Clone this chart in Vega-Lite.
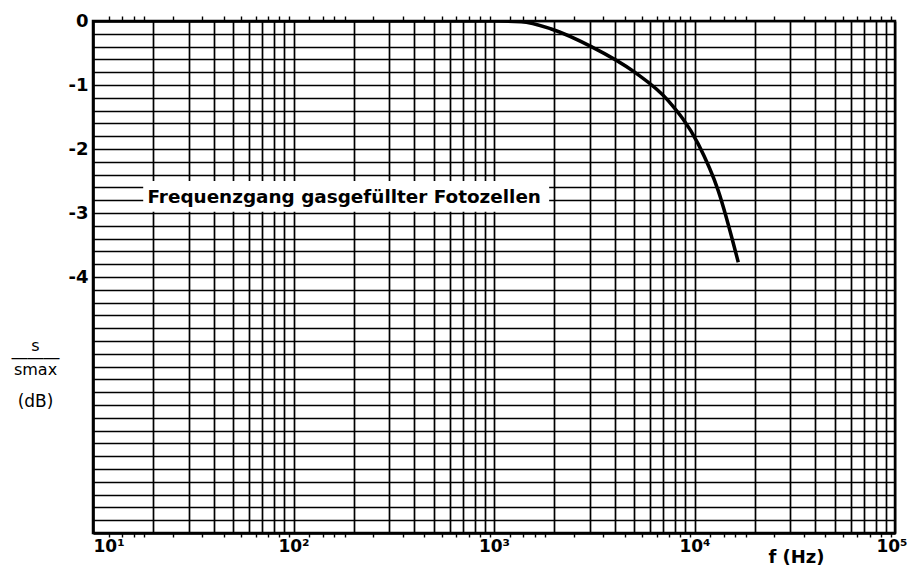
{
  "$schema": "https://vega.github.io/schema/vega-lite/v6.json",
  "width": 802,
  "height": 512,
  "autosize": "none",
  "padding": {"left": 93, "top": 21, "right": 12, "bottom": 37},
  "background": "white",
  "config": {"view": {"stroke": "black", "strokeWidth": 2.5}},
  "datasets": {
    "curve": [
      {"f": 10, "db": 0},
      {"f": 1000, "db": 0},
      {"f": 1365, "db": -0.01},
      {"f": 1930, "db": -0.125},
      {"f": 3055, "db": -0.4},
      {"f": 5030, "db": -0.8},
      {"f": 7390, "db": -1.245},
      {"f": 10430, "db": -1.92},
      {"f": 13130, "db": -2.65},
      {"f": 16530, "db": -3.77}
    ],
    "note": [
      {"f1": 17.8, "f2": 1884, "y1": -2.5, "y2": -2.98, "fc": 179, "yc": -2.745, "label": "Frequenzgang gasgefüllter Fotozellen"}
    ]
  },
  "layer": [
    {
      "data": {"name": "curve"},
      "mark": {"type": "line", "color": "black", "strokeWidth": 3.5, "interpolate": "monotone", "clip": true},
      "encoding": {
        "x": {
          "field": "f", "type": "quantitative",
          "scale": {"type": "log", "domain": [10, 100000], "nice": false},
          "axis": {
            "orient": "bottom",
            "values": [10,20,30,40,50,60,70,80,90,100,200,300,400,500,600,700,800,900,1000,2000,3000,4000,5000,6000,7000,8000,9000,10000,20000,30000,40000,50000,60000,70000,80000,90000,100000],
            "labelExpr": "datum.value==10?'10¹':datum.value==100?'10²':datum.value==1000?'10³':datum.value==10000?'10⁴':datum.value==100000?'10⁵':''",
            "labelOverlap": false,
            "labelFlush": false,
            "labelBound": false,
            "labelAlign": {"condition": [{"test": "datum.value == 10", "value": "left"}, {"test": "datum.value == 100000", "value": "right"}], "value": "center"},
            "labelOffset": {"condition": {"test": "datum.value == 100000", "value": 12}, "value": 0},
            "labelFont": "DejaVu Sans",
            "labelFontWeight": "bold",
            "labelFontSize": 17,
            "labelColor": "black",
            "labelBaseline": "top",
            "labelPadding": 5,
            "grid": true,
            "gridColor": "black",
            "gridWidth": 1.7,
            "ticks": false,
            "domain": true,
            "domainColor": "black",
            "domainWidth": 2.5,
            "title": "f (Hz)",
            "titleFont": "DejaVu Sans",
            "titleFontWeight": "bold",
            "titleFontSize": 18,
            "titleColor": "black",
            "titleX": 703,
            "titleY": 24,
            "titleAlign": "center",
            "titleBaseline": "middle"
          }
        },
        "y": {
          "field": "db", "type": "quantitative",
          "scale": {"domain": [-8, 0], "nice": false, "zero": false},
          "axis": {
            "values": [0,-0.2,-0.4,-0.6,-0.8,-1,-1.2,-1.4,-1.6,-1.8,-2,-2.2,-2.4,-2.6,-2.8,-3,-3.2,-3.4,-3.6,-3.8,-4,-4.2,-4.4,-4.6,-4.8,-5,-5.2,-5.4,-5.6,-5.8,-6,-6.2,-6.4,-6.6,-6.8,-7,-7.2,-7.4,-7.6,-7.8,-8],
            "labelExpr": "datum.value==0?'0':datum.value==-1?'-1':datum.value==-2?'-2':datum.value==-3?'-3':datum.value==-4?'-4':''",
            "labelOverlap": false,
            "labelBound": false,
            "labelFont": "DejaVu Sans",
            "labelFontWeight": "bold",
            "labelFontSize": 18,
            "labelColor": "black",
            "labelPadding": 5,
            "ticks": false,
            "grid": true,
            "gridColor": "black",
            "gridWidth": 1.6,
            "domain": true,
            "domainColor": "black",
            "domainWidth": 2.5,
            "title": ["s", "―――", "smax"],
            "titleAngle": 0,
            "titleX": -58,
            "titleY": 324,
            "titleAlign": "center",
            "titleBaseline": "middle",
            "titleLineHeight": 12,
            "titleFont": "DejaVu Sans",
            "titleFontSize": 16,
            "titleFontWeight": "normal",
            "titleColor": "black"
          }
        }
      }
    },
    {
      "data": {"name": "note"},
      "mark": {"type": "rect", "color": "white", "stroke": null},
      "encoding": {
        "x": {
          "field": "f1", "type": "quantitative",
          "scale": {"type": "log", "domain": [10, 100000], "nice": false},
          "axis": {
            "orient": "top",
            "values": [12,14,16,18,25,35,45,55,65,75,85,95,120,140,160,180,250,350,450,550,650,750,850,950,1200,1400,1600,1800,2500,3500,4500,5500,6500,7500,8500,9500,12000,14000,16000,18000,25000,35000,45000,55000,65000,75000,85000,95000],
            "labels": false,
            "grid": false,
            "domain": false,
            "ticks": true,
            "tickSize": 5,
            "tickWidth": 1.4,
            "tickColor": "black",
            "title": null
          }
        },
        "x2": {"field": "f2"},
        "y": {
          "field": "y1", "type": "quantitative",
          "scale": {"domain": [-8, 0], "nice": false, "zero": false},
          "axis": {
            "orient": "left",
            "labels": false,
            "ticks": false,
            "domain": false,
            "grid": false,
            "title": "(dB)",
            "titleAngle": 0,
            "titleX": -58,
            "titleY": 380,
            "titleAlign": "center",
            "titleBaseline": "middle",
            "titleFont": "DejaVu Sans",
            "titleFontSize": 17,
            "titleFontWeight": "normal",
            "titleColor": "black"
          }
        },
        "y2": {"field": "y2"}
      }
    },
    {
      "data": {"name": "note"},
      "mark": {"type": "text", "font": "DejaVu Sans", "fontWeight": "bold", "fontSize": 18.4, "color": "black", "align": "center", "baseline": "middle"},
      "encoding": {
        "x": {
          "field": "fc", "type": "quantitative",
          "scale": {"type": "log", "domain": [10, 100000], "nice": false},
          "axis": {
            "orient": "bottom",
            "values": [12,14,16,18,25,35,45,55,65,75,85,95,120,140,160,180,250,350,450,550,650,750,850,950,1200,1400,1600,1800,2500,3500,4500,5500,6500,7500,8500,9500,12000,14000,16000,18000,25000,35000,45000,55000,65000,75000,85000,95000],
            "labels": false,
            "grid": false,
            "domain": false,
            "ticks": true,
            "tickSize": 4,
            "tickWidth": 1.4,
            "tickColor": "black",
            "title": null
          }
        },
        "y": {"field": "yc", "type": "quantitative", "scale": {"domain": [-8, 0], "nice": false, "zero": false}, "axis": null},
        "text": {"field": "label"}
      }
    }
  ],
  "resolve": {"scale": {"x": "independent", "y": "independent"}, "axis": {"x": "independent", "y": "independent"}}
}
